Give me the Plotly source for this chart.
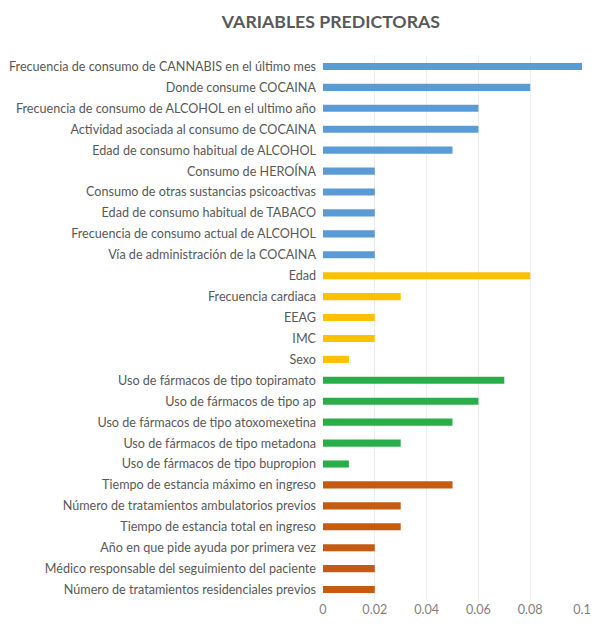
import plotly.graph_objects as go

categories = [
    "Frecuencia de consumo de CANNABIS en el último mes",
    "Donde consume COCAINA",
    "Frecuencia de consumo de ALCOHOL en el ultimo año",
    "Actividad asociada al consumo de COCAINA",
    "Edad de consumo habitual de ALCOHOL",
    "Consumo de HEROÍNA",
    "Consumo de otras sustancias psicoactivas",
    "Edad de consumo habitual de TABACO",
    "Frecuencia de consumo actual de ALCOHOL",
    "Vía de administración de la COCAINA",
    "Edad",
    "Frecuencia cardiaca",
    "EEAG",
    "IMC",
    "Sexo",
    "Uso de fármacos de tipo topiramato",
    "Uso de fármacos de tipo ap",
    "Uso de fármacos de tipo atoxomexetina",
    "Uso de fármacos de tipo metadona",
    "Uso de fármacos de tipo bupropion",
    "Tiempo de estancia máximo en ingreso",
    "Número de tratamientos ambulatorios previos",
    "Tiempo de estancia total en ingreso",
    "Año en que pide ayuda por primera vez",
    "Médico responsable del seguimiento del paciente",
    "Número de tratamientos residenciales previos",
]
values = [0.1, 0.08, 0.06, 0.06, 0.05, 0.02, 0.02, 0.02, 0.02, 0.02,
          0.08, 0.03, 0.02, 0.02, 0.01,
          0.07, 0.06, 0.05, 0.03, 0.01,
          0.05, 0.03, 0.03, 0.02, 0.02, 0.02]
groups = [0]*10 + [1]*5 + [2]*5 + [3]*6
group_colors = ["#5B9BD5", "#FFC000", "#2AAE4A", "#C55A11"]
tick_vals = [0, 0.02, 0.04, 0.06, 0.08, 0.1]
tick_text = ["0", "0.02", "0.04", "0.06", "0.08", "0.1"]

fig = go.Figure(go.Bar(
    x=values,
    y=categories,
    orientation="h",
    marker=dict(color=[group_colors[g] for g in groups], line=dict(width=0)),
    width=0.34,
))

fig.update_layout(
    width=592, height=624,
    paper_bgcolor="white", plot_bgcolor="white",
    margin=dict(l=323, r=10, t=56, b=24),
    showlegend=False,
    font=dict(family="Lato, sans-serif", size=12.6, color="#595959"),
    title=dict(text="<b>VARIABLES PREDICTORAS</b>", x=0.559, xanchor="center",
               y=0.965, yanchor="middle",
               font=dict(family="Lato, sans-serif", size=17.7, color="#595959")),
    xaxis=dict(range=[0, 0.1], tickvals=tick_vals, ticktext=tick_text,
               showgrid=True, gridcolor="#EDEDED", zeroline=False,
               showline=False, ticks="", automargin=False,
               tickfont=dict(size=12.6, color="#7F7F7F")),
    yaxis=dict(autorange="reversed", ticks="", showline=False, automargin=False,
               tickfont=dict(size=12.6, color="#595959"), ticklabelstandoff=6),
)

fig.write_html(
    "out.html",
    config={"displayModeBar": False},
    post_script="document.body.style.margin='0';document.body.style.overflow='hidden';",
)
